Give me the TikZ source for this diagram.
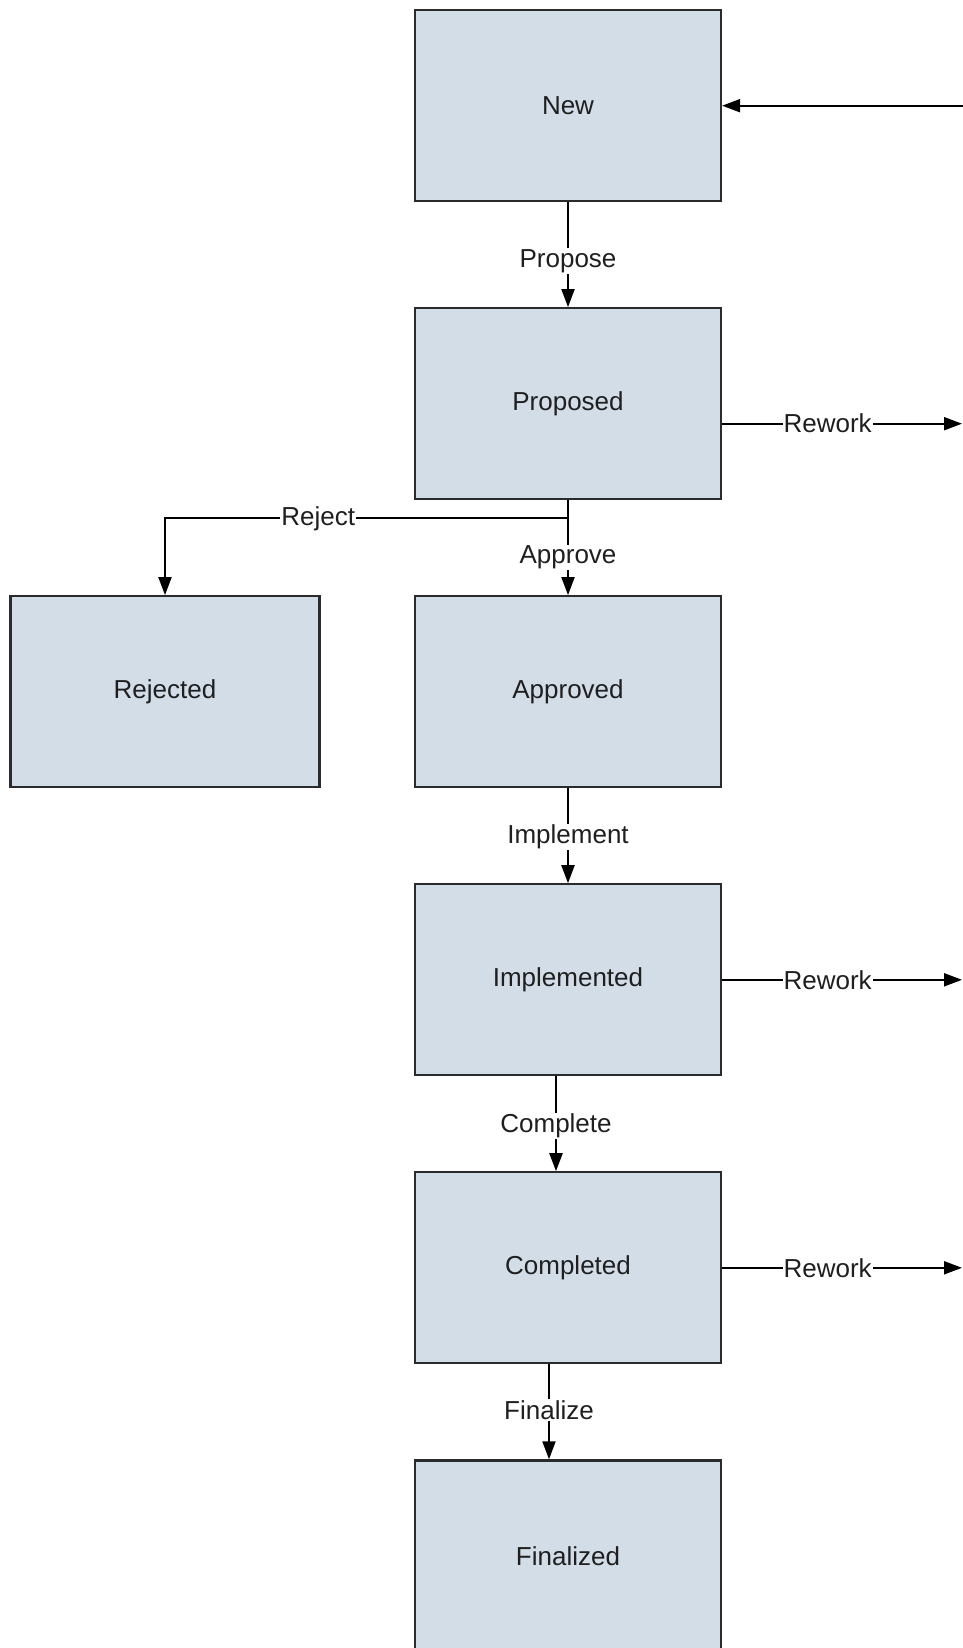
\documentclass[tikz,border=0pt]{standalone}
\usepackage{fontspec}
\setmainfont{Liberation Sans}
\usetikzlibrary{arrows.meta,calc}
\definecolor{boxfill}{HTML}{D3DDE7}
\definecolor{boxline}{HTML}{2B2B2B}
\begin{document}
\begin{tikzpicture}[x=1pt,y=-1pt,
  state/.style={draw=boxline,fill=boxfill,line width=2.2pt,minimum width=306pt,minimum height=191pt,inner sep=0pt,font=\fontsize{26}{30}\selectfont,text=black!88},
  conn/.style={line width=2pt,-{Triangle[length=18pt,width=13pt]}},
  plain/.style={line width=2pt},
  lbl/.style={fill=white,inner sep=1pt,font=\fontsize{26}{30}\selectfont,text=black!88}]
\useasboundingbox (0,0) rectangle (963,1648);
\clip (0,0) rectangle (963,1648);
\node[state] (new) at (568,105.7) {New};
\node[state] (proposed) at (568,403.7) {Proposed};
\node[state,minimum width=309pt] (rejected) at (165,691.7) {Rejected};
\node[state] (approved) at (568,691.7) {Approved};
\node[state] (implemented) at (568,979.8) {Implemented};
\node[state] (completed) at (568,1267.8) {Completed};
\node[state] (finalized) at (568,1555.9) {Finalized};
\coordinate (inNew) at (963,105.7);
\coordinate (rw1) at (962,423.7);
\coordinate (rw2) at (962,979.8);
\coordinate (rw3) at (962,1267.8);
\coordinate (rj) at (568,518.3);
\draw[conn] (inNew) -- (new.east);
\draw[conn] (new.south) -- node[lbl,pos=0.56]{Propose} (proposed.north);
\draw[conn] ([yshift=-20pt]proposed.east) -- node[lbl,pos=0.44]{Rework} (rw1);
\draw[plain] (proposed.south) -- (rj);
\draw[conn] (rj) -- node[lbl,pos=0.51]{Approve} (approved.north);
\draw[conn] (rj) -- node[lbl,pos=0.62]{Reject} (rj -| rejected.north) -- (rejected.north);
\draw[conn] (approved.south) -- node[lbl,pos=0.51]{Implement} (implemented.north);
\draw[conn] (implemented.east) -- node[lbl,pos=0.44]{Rework} (rw2);
\draw[conn] ([xshift=-12pt]implemented.south) -- node[lbl,pos=0.52]{Complete} ([xshift=-12pt]completed.north);
\draw[conn] (completed.east) -- node[lbl,pos=0.44]{Rework} (rw3);
\draw[conn] ([xshift=-19pt]completed.south) -- node[lbl,pos=0.48]{Finalize} ([xshift=-19pt]finalized.north);
\end{tikzpicture}
\end{document}
